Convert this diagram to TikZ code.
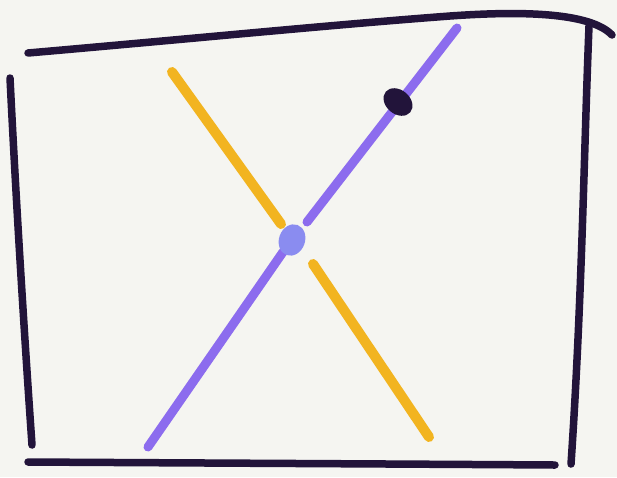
\documentclass[tikz,border=0pt]{standalone}
\usetikzlibrary{shapes.geometric}
\begin{document}
\begin{tikzpicture}[x=1pt,y=-1pt,
  frame/.style={draw=framec,line width=7.5pt,line cap=round,line join=round},
  purp/.style={draw=purpc,line width=9pt,line cap=round},
  yel/.style={draw=yelc,line width=10pt,line cap=round}]
\definecolor{framec}{HTML}{22143A}
\definecolor{purpc}{HTML}{8C6CEE}
\definecolor{yelc}{HTML}{F2B420}
\definecolor{bgc}{HTML}{F5F5F1}
\definecolor{dotc}{HTML}{8A8CF0}
\fill[bgc] (0,0) rectangle (617,477);
\useasboundingbox (0,0) rectangle (617,477);
% frame
\draw[frame] (28,53) .. controls (200,38) and (330,25) .. (450,16) .. controls (520,11) and (590,12) .. (612,35);
\draw[frame] (589,26) .. controls (584,150) and (582,300) .. (571,464);
\draw[frame] (10,78) .. controls (16,200) and (24,330) .. (32,445);
\draw[frame] (28,462) .. controls (200,463) and (400,464) .. (555,465);
% purple line
\coordinate (pa) at (148,447);
\coordinate (pb) at (283,252);
\coordinate (pc) at (307,222);
\coordinate (pd) at (457,28);
\draw[purp] (pa) -- (pb);
\draw[purp] (pc) -- (pd);
% yellow line
\coordinate (ya) at (172,72);
\coordinate (yb) at (281,224);
\coordinate (yc) at (313,264);
\coordinate (yd) at (429,437);
\draw[yel] (ya) -- (yb);
\draw[yel] (yc) -- (yd);
% dots
\node[draw=none,fill=dotc,ellipse,minimum width=26pt,minimum height=32pt,inner sep=0pt,rotate=-20] (bd) at (292,240) {};
\fill[framec,rotate around={-40:(398,102)}] (398,102) ellipse (16pt and 12pt);
\end{tikzpicture}
\end{document}
